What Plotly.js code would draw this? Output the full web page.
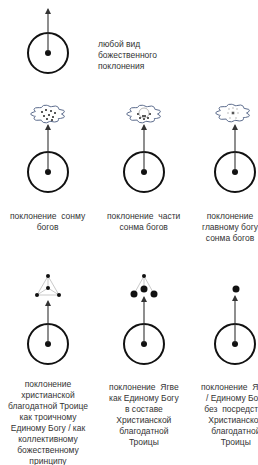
<!DOCTYPE html>
<html><head><meta charset="utf-8">
<script src="https://cdn.plot.ly/plotly-3.0.1.min.js"></script>
<style>html,body{margin:0;padding:0;background:#fff;overflow:hidden}#chart{width:258px;height:465px}</style>
</head><body><div id="chart"></div>
<script>
// diagram elements
const circleX = [48, 48, 144, 235, 48, 144, 235];
const circleY = [53, 172, 172, 172, 344, 344, 344];
const arrowTipY = [8, 124, 124, 124, 300, 296, 295];

const cloudX = [48, 144, 233];
const cloudY = [114, 114, 113];

const labelText = [
  "любой вид<br>божественного<br>поклонения",
  "поклонение  сонму<br>богов",
  "поклонение  части<br>сонма богов",
  "поклонение<br>главному богу<br>сонма богов",
  "поклонение<br>христианской<br>благодатной Троице<br>как троичному<br>Единому Богу / как<br>коллективному<br>божественному<br>принципу",
  "поклонение  Ягве<br>как Единому Богу<br>в составе<br>Христианской<br>благодатной<br>Троицы",
  "поклонение  Ягве<br>/ Единому Богу<br>без  посредства<br>Христианской<br>благодатной<br>Троицы"
];
const labelX = [96, 48, 144, 230, 48, 144, 236];
const labelY = [37, 209, 209, 209, 377, 380, 380];
const labelAnchor = ["left", "center", "center", "center", "center", "center", "center"];

// small dots inside clouds (offsets from cloud centre)
const cloud1DotX = [-6, -2, 3, 7, -4, 1, 5, -1, 4];
const cloud1DotY = [-2, -4, -3, -1, 2, 1, 3, 5, 6];
const cloud2DotX = [-6, 6, -4, 4, 0, -1, 1];
const cloud2DotY = [0, 0, 4, 4, 5, 2, 2];
const cloud3DotX = [0, -5, 5, -4, 4, 0, -3, 3];
const cloud3DotY = [0, 0, 0, -4, -4, -5, 5, 5];

// trinity figures (row 3)
const tri1X = [48, 48, 37, 59];
const tri1Y = [276, 288, 295, 295];
const tri2TopX = [144], tri2TopY = [276];
const tri2X = [134, 144, 154];
const tri2Y = [294, 289, 294];
const single3X = [236], single3Y = [289];

const traces = [];

// clouds
function cloudPath(cx, cy) {
  const xs = [], ys = [];
  const rx = 13.5, ry = 7;
  for (let i = 0; i <= 360; i += 2) {
    const t = i * Math.PI / 180;
    const f = 1 + 0.28 * Math.abs(Math.sin(4.5 * t));
    xs.push(cx + rx * Math.cos(t) * f);
    ys.push(cy + ry * Math.sin(t) * f);
  }
  return {xs, ys};
}
cloudX.forEach((cx, i) => {
  const p = cloudPath(cx, cloudY[i]);
  traces.push({x: p.xs, y: p.ys, mode: "lines", line: {color: "#5b6b8c", width: 1}, hoverinfo: "skip"});
});
traces.push({x: cloud1DotX.map(d => d + cloudX[0]), y: cloud1DotY.map(d => d + cloudY[0]), mode: "markers",
  marker: {size: 2, color: "#222"}});
traces.push({x: cloud2DotX.map(d => d + cloudX[1]), y: cloud2DotY.map(d => d + cloudY[1]), mode: "markers",
  marker: {size: 2, color: "#222"}});
traces.push({x: [cloudX[1]], y: [cloudY[1] - 1], mode: "markers",
  marker: {size: 10, symbol: "circle-open", color: "#999", line: {width: 0.7}}});
traces.push({x: cloud3DotX.map(d => d + cloudX[2]), y: cloud3DotY.map(d => d + cloudY[2]), mode: "markers",
  marker: {size: [4, 2, 2, 2, 2, 2, 2, 2], color: "#111"}});

// trinity figure 1 lines
const t1 = [[0,2],[0,3],[0,1],[2,3],[1,2],[1,3]];
t1.forEach(([a,b]) => traces.push({x: [tri1X[a], tri1X[b]], y: [tri1Y[a], tri1Y[b]], mode: "lines",
  line: {color: "#bbb", width: 0.8}}));
traces.push({x: tri1X, y: tri1Y, mode: "markers", marker: {size: 4, color: "#111"}});
// trinity figure 2
tri2X.forEach((x, i) => traces.push({x: [tri2TopX[0], x], y: [tri2TopY[0], tri2Y[i]], mode: "lines",
  line: {color: "#bbb", width: 0.8}}));
traces.push({x: tri2TopX, y: tri2TopY, mode: "markers", marker: {size: 4, color: "#111"}});
traces.push({x: tri2X, y: tri2Y, mode: "markers", marker: {size: 7, color: "#111"}});
traces.push({x: single3X, y: single3Y, mode: "markers", marker: {size: 7, color: "#111"}});

// big circles and centre dots
traces.push({x: circleX, y: circleY, mode: "markers",
  marker: {size: 40, symbol: "circle-open", color: "#111", line: {width: 2}}});
traces.push({x: circleX, y: circleY, mode: "markers", marker: {size: 6, color: "#111"}});

const annotations = [];
circleX.forEach((cx, i) => {
  annotations.push({x: cx, y: arrowTipY[i], ax: cx, ay: circleY[i], axref: "x", ayref: "y",
    xref: "x", yref: "y", text: "", showarrow: true, arrowhead: 2, arrowsize: 1.1, arrowwidth: 1.1,
    arrowcolor: "#333", standoff: 0, startstandoff: 0});
});
labelText.forEach((t, i) => {
  annotations.push({x: labelX[i], y: labelY[i], xref: "x", yref: "y", text: t, showarrow: false,
    xanchor: labelAnchor[i], yanchor: "top", align: labelAnchor[i],
    font: {family: "Liberation Sans, Arial, sans-serif", size: 8.5, color: "#333"}});
});

const layout = {
  width: 258, height: 465,
  margin: {l: 0, r: 0, t: 0, b: 0},
  paper_bgcolor: "#fff", plot_bgcolor: "#fff",
  showlegend: false,
  xaxis: {range: [0, 258], visible: false, fixedrange: true},
  yaxis: {range: [465, 0], visible: false, fixedrange: true},
  annotations: annotations
};
traces.forEach(t => { t.type = "scatter"; t.hoverinfo = "skip"; t.cliponaxis = false; });
Plotly.newPlot("chart", traces, layout, {staticPlot: true, displayModeBar: false});
</script>
</body></html>
